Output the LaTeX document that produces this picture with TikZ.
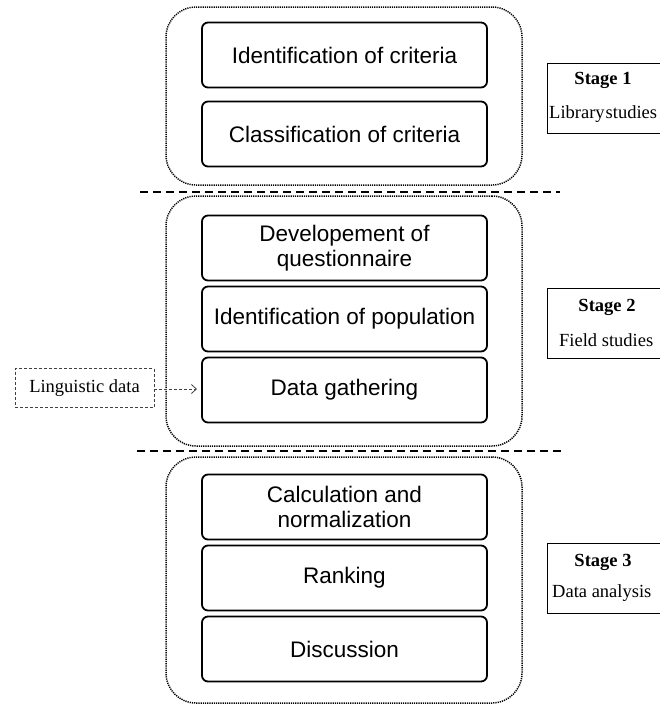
\documentclass[tikz,border=0pt]{standalone}
\usepackage{fontspec}
\setmainfont{Liberation Serif}
\newfontfamily\boxfont{Liberation Sans}
\usetikzlibrary{arrows.meta}
\tikzset{
  stepbox/.style={draw, line width=1.8pt, rounded corners=6pt, minimum width=285pt, minimum height=65pt, align=center, inner sep=2pt, font=\boxfont\fontsize{22.5}{25}\selectfont},
  group/.style={draw, line width=1.5pt, dash pattern=on 1.2pt off 1pt, rounded corners=30pt, minimum width=356pt},
  sep/.style={line width=1.5pt, dash pattern=on 8pt off 5pt},
  stagetitle/.style={font=\fontsize{18.5}{20}\selectfont\bfseries, inner sep=0pt},
  stagetext/.style={font=\fontsize{18.5}{20}\selectfont, inner sep=0pt, anchor=west},
  stageframe/.style={line width=0.8pt},
  extbox/.style={draw=black!75, line width=0.8pt, dash pattern=on 3pt off 2pt, minimum width=139pt, minimum height=39pt, inner sep=0pt, font=\fontsize{18.5}{20}\selectfont},
  extarrow/.style={draw=black!75, line width=0.8pt, dash pattern=on 3pt off 2pt, -{Straight Barb[length=5pt,width=9pt]}}
}
\begin{document}
\begin{tikzpicture}[x=1pt,y=-1pt]
\useasboundingbox (0,0) rectangle (659,704);
% groups
\node[group, minimum height=178pt] (g1) at (344,96) {};
\node[group, minimum height=250pt] (g2) at (344,321) {};
\node[group, minimum height=246pt] (g3) at (344,580) {};
% separators
\coordinate (s1a) at (140,192); \coordinate (s1b) at (560,192);
\coordinate (s2a) at (137,451); \coordinate (s2b) at (565,451);
\draw[sep] (s1a) -- (s1b);
\draw[sep] (s2a) -- (s2b);
% steps
\node[stepbox] (idc) at (344.5,55) {Identification of criteria};
\node[stepbox] (clc) at (344.5,134) {Classification of criteria};
\node[stepbox] (dev) at (344.5,248) {Developement of\\questionnaire};
\node[stepbox] (pop) at (344.5,319) {Identification of population};
\node[stepbox] (gat) at (344.5,390) {Data gathering};
\node[stepbox] (cal) at (344.5,507) {Calculation and\\normalization};
\node[stepbox] (rnk) at (344.5,578) {Ranking};
\node[stepbox] (dis) at (344.5,649) {Discussion};
% external input
\node[extbox] (ling) at (84.5,388) {Linguistic data};
\coordinate (lingend) at (197,389);
\draw[extarrow] (ling.east |- lingend) -- (lingend);
% stage frames
\draw[stageframe] (660,63) -- (547,63) -- (547,133) -- (660,133);
\draw[stageframe] (660,288) -- (547,288) -- (547,358) -- (660,358);
\draw[stageframe] (660,543) -- (547,543) -- (547,613) -- (660,613);
\node[stagetitle] (st1) at (603,80) {Stage 1};
\node[stagetext] (sd1) at (549,114) {Library\hspace{1pt}studies};
\node[stagetitle] (st2) at (607,307) {Stage 2};
\node[stagetext] (sd2) at (559,340) {Field studies};
\node[stagetitle] (st3) at (603,562) {Stage 3};
\node[stagetext] (sd3) at (552,593) {Data analysis};
\end{tikzpicture}
\end{document}
